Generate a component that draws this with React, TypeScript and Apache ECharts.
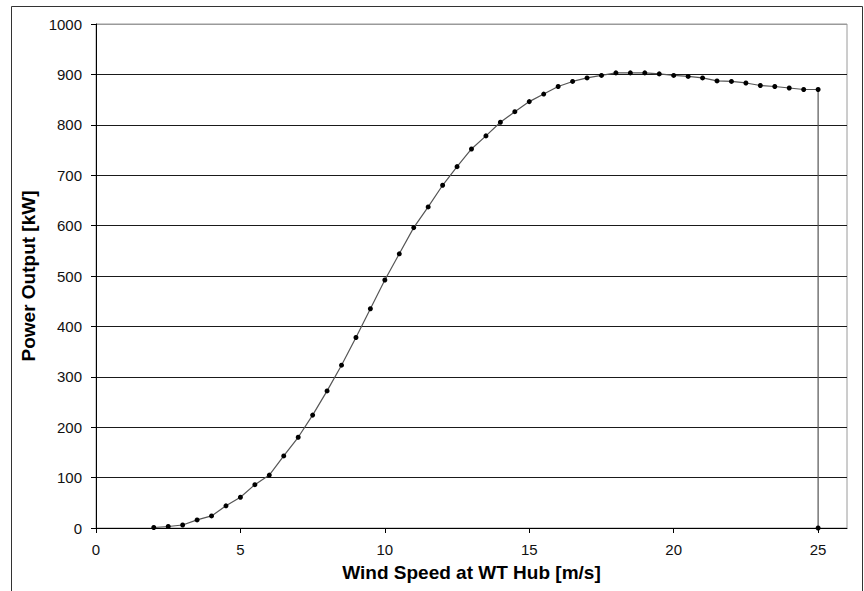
import React, { useEffect, useRef } from "react";
import * as echarts from "echarts";

const windSpeed: number[] = [
  2, 2.5, 3, 3.5, 4, 4.5, 5, 5.5, 6, 6.5, 7, 7.5, 8, 8.5, 9, 9.5, 10, 10.5, 11,
  11.5, 12, 12.5, 13, 13.5, 14, 14.5, 15, 15.5, 16, 16.5, 17, 17.5, 18, 18.5, 19,
  19.5, 20, 20.5, 21, 21.5, 22, 22.5, 23, 23.5, 24, 24.5, 25, 25,
];
const powerOutput: number[] = [
  1, 3, 6, 16, 24, 44, 61, 86, 105, 143, 180, 224, 272, 323, 378, 435, 492, 544,
  596, 637, 680, 717, 752, 778, 805, 826, 846, 861, 876, 886, 893, 898, 903, 903,
  903, 901, 898, 896, 893, 887, 886, 883, 878, 876, 873, 870, 870, 0,
];
const xTickValues: number[] = [0, 5, 10, 15, 20, 25];
const xAxisTitle = "Wind Speed at WT Hub [m/s]";
const yAxisTitle = "Power Output [kW]";

const FONT = "'Liberation Sans', Arial, Helvetica, sans-serif";

export default function App() {
  const ref = useRef<HTMLDivElement>(null);
  useEffect(() => {
    if (!ref.current) return;
    const chart = echarts.init(ref.current, null, { renderer: "svg" });
    const data = windSpeed.map((v, i) => [v, powerOutput[i]]);
    const gridColors = Array.from({ length: 11 }, (_, i) => (i === 10 ? "#9a9a9a" : "#1a1a1a"));
    chart.setOption({
      animation: false,
      backgroundColor: "#ffffff",
      textStyle: { fontFamily: FONT },
      grid: {
        left: 96,
        top: 24,
        right: 17,
        bottom: 63,
        show: true,
        borderColor: "#9a9a9a",
        borderWidth: 1,
        backgroundColor: "transparent",
      },
      graphic: [
        {
          type: "rect",
          shape: { x: 11.5, y: 6.5, width: 851, height: 620 },
          style: { fill: "none", stroke: "#333", lineWidth: 1 },
          silent: true,
          z: -10,
        },
      ],
      xAxis: {
        type: "value",
        min: 0,
        max: 26,
        interval: 5,
        name: xAxisTitle,
        nameLocation: "middle",
        nameGap: 35,
        nameTextStyle: { fontFamily: FONT, fontSize: 19, fontWeight: "bold", color: "#000" },
        axisLine: { show: true, onZero: false, lineStyle: { color: "#000", width: 1 } },
        axisTick: { show: true, length: 5, customValues: xTickValues, lineStyle: { color: "#000" } },
        axisLabel: {
          margin: 14,
          fontSize: 15,
          color: "#111",
          fontFamily: FONT,
          customValues: xTickValues,
          formatter: (v: number) => String(v),
        },
        splitLine: { show: false },
      },
      yAxis: {
        type: "value",
        min: 0,
        max: 1000,
        interval: 100,
        name: yAxisTitle,
        nameLocation: "middle",
        nameGap: 56,
        nameTextStyle: { fontFamily: FONT, fontSize: 19, fontWeight: "bold", color: "#000" },
        axisLine: { show: true, lineStyle: { color: "#000", width: 1 } },
        axisTick: { show: true, length: 5, lineStyle: { color: "#000" } },
        axisLabel: {
          margin: 14,
          fontSize: 15,
          color: "#111",
          fontFamily: FONT,
          formatter: (v: number) => String(v),
        },
        splitLine: { show: true, lineStyle: { color: gridColors, width: 1 } },
      },
      series: [
        {
          type: "line",
          data,
          smooth: false,
          symbol: "circle",
          symbolSize: 5,
          showSymbol: true,
          itemStyle: { color: "#000" },
          lineStyle: { color: "#555", width: 1.2 },
        },
      ],
    });
    return () => chart.dispose();
  }, []);
  return (
    <div
      ref={ref}
      style={{ position: "absolute", left: 0, top: 0, width: 864, height: 591, background: "#fff" }}
    />
  );
}
